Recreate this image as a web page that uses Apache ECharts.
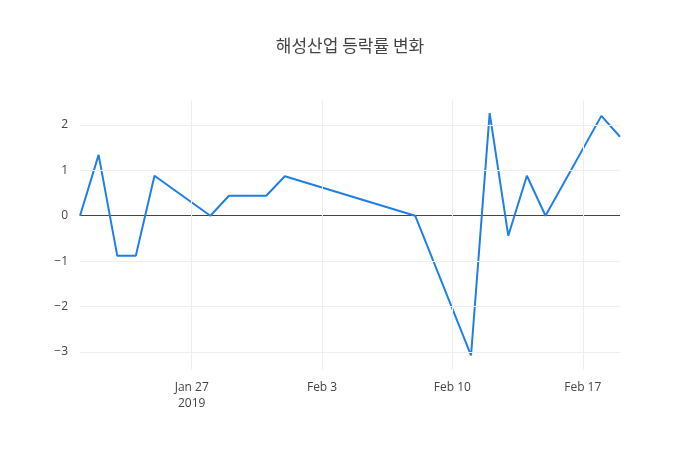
<!DOCTYPE html>
<html><head><meta charset="utf-8">
<script src="https://cdn.jsdelivr.net/npm/echarts@6/dist/echarts.min.js"></script>
<style>body{margin:0}#c{width:700px;height:450px}</style></head>
<body><div id="c"></div>
<script>
const dates = ['2019-01-21','2019-01-22','2019-01-23','2019-01-24','2019-01-25','2019-01-28','2019-01-29','2019-01-31','2019-02-01','2019-02-08','2019-02-11','2019-02-12','2019-02-13','2019-02-14','2019-02-15','2019-02-18','2019-02-19'];
const values = [0,1.34,-0.88,-0.88,0.88,0,0.44,0.44,0.87,0,-3.08,2.26,-0.44,0.88,0,2.2,1.74];
const xTicks = [7,14,21,28];
const yTicks = [-3,-2,-1,0,1,2];
const base = Date.UTC(2019,0,20);
const day = d => (Date.parse(d+'T00:00:00Z')-base)/86400000;
const months=['Jan','Feb','Mar'];
const data = dates.map((d,i)=>[day(d),values[i]]);
const grid = [
  ...yTicks.filter(v=>v!==0).map(v=>[{coord:[1,v]},{coord:[30,v]}]),
  ...xTicks.map(v=>[{coord:[v,-3.4]},{coord:[v,2.55]}])
];
const chart = echarts.init(document.getElementById('c'));
chart.setOption({
  title:{text:'해성산업 등락률 변화',left:'center',top:32,textStyle:{fontSize:17,fontWeight:'normal',color:'#444',fontFamily:'Noto Sans CJK KR'}},
  grid:{left:80,right:80,top:100,bottom:80},
  xAxis:{type:'value',min:1,max:30,
    axisLine:{show:false},axisTick:{show:false,customValues:xTicks},
    splitLine:{show:false},
    axisLabel:{customValues:xTicks,color:'#444',fontSize:12,fontFamily:'Open Sans',lineHeight:16,margin:10,
      formatter:v=>{const dt=new Date(base+v*86400000);const s=months[dt.getUTCMonth()]+' '+dt.getUTCDate();return v===7?s+'\n2019':s;}}},
  yAxis:{type:'value',min:-3.4,max:2.55,
    axisLine:{show:false},axisTick:{show:false,customValues:yTicks},
    splitLine:{show:false},
    axisLabel:{customValues:yTicks,color:'#444',fontSize:12,fontFamily:'Open Sans',margin:12,
      formatter:v=>v<0?'−'+(-v):String(v)}},
  series:[
    {type:'line',data:[],z:1,markLine:{silent:true,symbol:'none',label:{show:false},lineStyle:{color:'#eee',width:1,type:'solid'},data:grid}},
    {type:'line',data:data,symbol:'none',z:3,lineStyle:{color:'#1f7fe8',width:2},
    markLine:{silent:true,symbol:'none',z:2,label:{show:false},lineStyle:{color:'#444',width:1,type:'solid'},
      data:[[{coord:[1,0]},{coord:[30,0]}]]}}]
});
</script></body></html>
